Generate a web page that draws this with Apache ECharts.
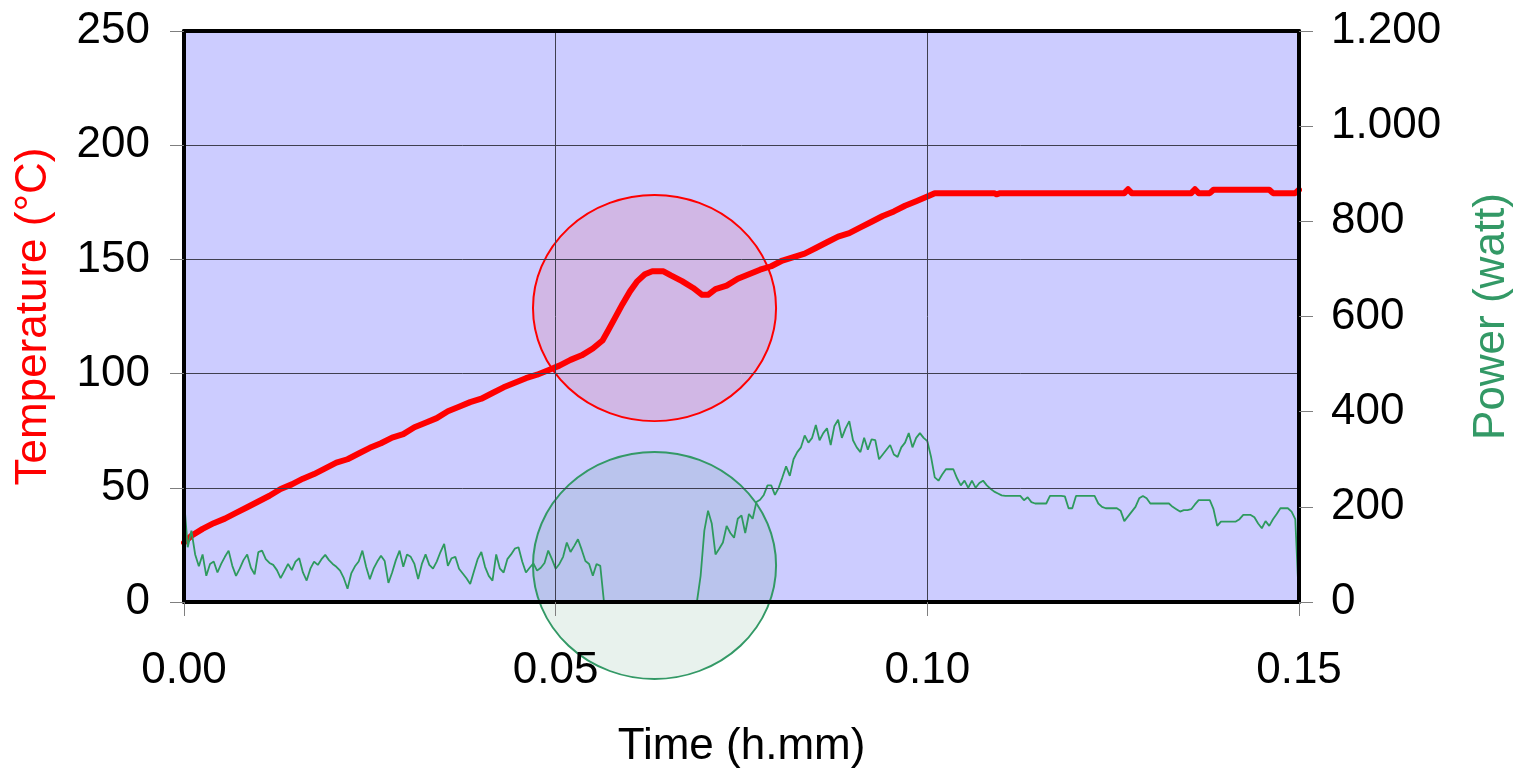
<!DOCTYPE html>
<html>
<head>
<meta charset="utf-8">
<title>Temperature and power vs time</title>
<script src="https://cdn.jsdelivr.net/npm/echarts@6/dist/echarts.min.js"></script>
<style>
  html, body { margin: 0; padding: 0; background: #fff; }
  #chart { width: 1513px; height: 768px; }
</style>
</head>
<body>
<div id="chart"></div>
<script>
// Temperature log (h.mm, °C)
const tempTime = [
  0.0000, 0.0010, 0.0025, 0.0040, 0.0055, 0.0070, 0.0085, 0.0100, 0.0115, 0.0130,
  0.0145, 0.0160, 0.0175, 0.0190, 0.0205, 0.0220, 0.0235, 0.0250, 0.0265, 0.0280,
  0.0295, 0.0310, 0.0325, 0.0340, 0.0355, 0.0370, 0.0385, 0.0400, 0.0415, 0.0430,
  0.0445, 0.0460, 0.0475, 0.0490, 0.0505, 0.0520, 0.0535, 0.0550, 0.0563, 0.0570,
  0.0580, 0.0590, 0.0600, 0.0610, 0.0620, 0.0630, 0.0645, 0.0655, 0.0670, 0.0685,
  0.0697, 0.0705, 0.0715, 0.0730, 0.0745, 0.0760, 0.0775, 0.0790, 0.0805, 0.0820,
  0.0835, 0.0850, 0.0865, 0.0880, 0.0895, 0.0910, 0.0925, 0.0940, 0.0955, 0.0970,
  0.0985, 0.1000, 0.1010, 0.1090, 0.1093, 0.1098, 0.1265, 0.1270, 0.1275, 0.1355,
  0.1360, 0.1365, 0.1380, 0.1385, 0.1460, 0.1465, 0.1495, 0.1500
];
const temperature = [
  26.0, 29.0, 32.0, 34.5, 36.5, 39.0, 41.5, 44.0, 46.5, 49.5,
  51.5, 54.0, 56.0, 58.5, 61.0, 62.5, 65.0, 67.5, 69.5, 72.0,
  73.5, 76.5, 78.5, 80.5, 83.5, 85.5, 87.5, 89.0, 91.5, 94.0,
  96.0, 98.0, 99.5, 101.5, 103.5, 106.0, 108.0, 111.0, 114.5, 118.5,
  124.5, 130.5, 136.0, 140.5, 143.5, 144.8, 144.8, 143.0, 140.5, 137.5,
  134.5, 134.5, 137.0, 138.5, 141.5, 143.5, 145.5, 147.0, 149.5, 151.0,
  152.5, 155.0, 157.5, 160.0, 161.5, 164.0, 166.5, 169.0, 171.0, 173.5,
  175.5, 177.5, 179.0, 179.0, 178.5, 179.0, 179.0, 180.7, 179.0, 179.0,
  180.7, 179.0, 179.0, 180.5, 180.5, 179.0, 179.0, 180.5
];

// Power log (watt), one record every POWER_STEP hours starting at 0
const POWER_STEP = 0.0005;
const power = [
  215, 115, 150, 100, 75, 100, 55, 80, 85, 62,
  80, 95, 108, 76, 55, 70, 88, 100, 72, 58,
  105, 108, 90, 82, 78, 67, 50, 65, 80, 67,
  85, 92, 62, 45, 70, 85, 78, 90, 99, 88,
  80, 74, 66, 50, 28, 60, 75, 85, 108, 74,
  48, 70, 85, 97, 86, 40, 62, 88, 108, 74,
  100, 95, 80, 48, 80, 100, 78, 70, 85, 105,
  122, 76, 92, 95, 70, 60, 50, 38, 64, 90,
  105, 74, 55, 45, 100, 70, 62, 90, 100, 112,
  115, 85, 62, 72, 81, 66, 72, 82, 108, 90,
  70, 80, 95, 125, 105, 118, 132, 110, 86, 80,
  55, 80, 76, 0, 0, 0, 0, 0, 0, 0,
  0, 0, 0, 0, 0, 0, 0, 0, 0, 0,
  0, 0, 0, 0, 0, 0, 0, 0, 0, 55,
  150, 192, 165, 100, 112, 125, 160, 145, 135, 175,
  182, 145, 185, 175, 210, 215, 225, 245, 245, 225,
  240, 262, 285, 265, 300, 315, 325, 350, 335, 345,
  372, 340, 355, 365, 330, 370, 383, 345, 365, 380,
  340, 325, 315, 345, 320, 342, 340, 300, 310, 320,
  330, 310, 305, 325, 335, 355, 325, 345, 355, 345,
  338, 305, 262, 255, 268, 279, 279, 279, 260, 245,
  255, 240, 255, 240, 250, 255, 245, 238, 232, 228,
  224, 223, 223, 223, 223, 223, 214, 220, 210, 207,
  207, 207, 207, 223, 223, 223, 223, 222, 197, 197,
  223, 223, 223, 223, 223, 223, 207, 200, 197, 197,
  197, 197, 192, 170, 180, 190, 200, 218, 223, 218,
  207, 207, 207, 207, 207, 207, 200, 195, 190, 193,
  193, 195, 205, 214, 214, 214, 214, 195, 160, 169,
  169, 169, 169, 169, 174, 183, 183, 183, 178, 165,
  155, 170, 160, 174, 185, 197, 197, 197, 190, 174,
  0
];

// Axis ticks
const timeTicks = [0, 0.05, 0.10, 0.15];
const tempTicks = [0, 50, 100, 150, 200, 250];
const powerTicks = [0, 200, 400, 600, 800, 1000, 1200];

// Highlighted regions: [centre time, centre °C, half-width (h), half-height (°C)]
const tempHighlight = [0.0633, 128.7, 0.01635, 49.5];
const powerHighlight = [0.0633, 16.0, 0.01635, 49.7];

const FONT = "'Liberation Sans', Arial, sans-serif";
const FRAME = { show: true, onZero: false, lineStyle: { color: '#000000', width: 4 } };
const TICK = { show: true, inside: false, length: 14, lineStyle: { color: '#7f7f7f', width: 1 } };
const GRID_LINE = { show: true, lineStyle: { color: '#3f3f4f', width: 1 } };

function thousandsDot(v) {
  return String(v).replace(/\B(?=(\d{3})+(?!\d))/g, '.');
}

function ellipseSeries(item, fill, stroke) {
  return {
    type: 'custom',
    xAxisIndex: 0,
    yAxisIndex: 0,
    z: 1,
    clip: false,
    silent: true,
    data: [item],
    renderItem: function (params, api) {
      const c = api.coord([api.value(0), api.value(1)]);
      const s = api.size([api.value(2), api.value(3)]);
      return {
        type: 'circle',
        x: c[0],
        y: c[1],
        scaleY: s[1] / s[0],
        shape: { cx: 0, cy: 0, r: s[0] },
        style: { fill: fill, stroke: stroke, lineWidth: 2 }
      };
    }
  };
}

const chart = echarts.init(document.getElementById('chart'), null, { renderer: 'canvas' });

const timeRange = {
  type: 'value',
  min: timeTicks[0],
  max: timeTicks[timeTicks.length - 1],
  interval: timeTicks[1] - timeTicks[0]
};

const option = {
  animation: false,
  textStyle: { fontFamily: FONT },
  grid: {
    left: 184, right: 214, top: 31, bottom: 166,
    containLabel: false,
    outerBoundsMode: 'none',
    show: true,
    backgroundColor: '#CCCCFF',
    borderWidth: 0
  },
  xAxis: [
    Object.assign({}, timeRange, {
      position: 'bottom',
      name: 'Time (h.mm)',
      nameLocation: 'middle',
      nameGap: 123,
      nameTextStyle: { fontSize: 44, color: '#000', fontFamily: FONT },
      axisLine: FRAME,
      axisTick: TICK,
      axisLabel: { fontSize: 44, color: '#000', margin: 47, fontFamily: FONT,
        formatter: v => v.toFixed(2) },
      splitLine: GRID_LINE,
      z: 5
    }),
    Object.assign({}, timeRange, {
      position: 'top',
      axisLine: FRAME,
      axisTick: { show: false },
      axisLabel: { show: false },
      splitLine: { show: false },
      z: 5
    })
  ],
  yAxis: [
    {
      type: 'value',
      position: 'left',
      min: tempTicks[0],
      max: tempTicks[tempTicks.length - 1],
      interval: tempTicks[1] - tempTicks[0],
      name: 'Temperature (°C)',
      nameLocation: 'middle',
      nameGap: 128,
      nameTextStyle: { fontSize: 44, color: '#FF0000', fontFamily: FONT },
      axisLine: FRAME,
      axisTick: TICK,
      axisLabel: { fontSize: 44, color: '#000', margin: 34, fontFamily: FONT },
      splitLine: GRID_LINE,
      z: 5
    },
    {
      type: 'value',
      position: 'right',
      min: powerTicks[0],
      max: powerTicks[powerTicks.length - 1],
      interval: powerTicks[1] - powerTicks[0],
      name: 'Power (watt)',
      nameLocation: 'middle',
      nameGap: 171,
      nameTextStyle: { fontSize: 44, color: '#339966', fontFamily: FONT },
      axisLine: FRAME,
      axisTick: TICK,
      axisLabel: { fontSize: 44, color: '#000', margin: 32, fontFamily: FONT,
        formatter: v => thousandsDot(v) },
      splitLine: { show: false },
      z: 5
    }
  ],
  series: [
    ellipseSeries(tempHighlight, 'rgba(255,0,0,0.10)', '#FF0000'),
    ellipseSeries(powerHighlight, 'rgba(46,139,87,0.11)', '#339966'),
    {
      name: 'Temperature',
      type: 'line',
      xAxisIndex: 0,
      yAxisIndex: 0,
      z: 3,
      showSymbol: false,
      symbol: 'none',
      lineStyle: { color: '#FF0000', width: 6, cap: 'round', join: 'round' },
      data: tempTime.map((t, i) => [t, temperature[i]])
    },
    {
      name: 'Power',
      type: 'line',
      xAxisIndex: 0,
      yAxisIndex: 1,
      z: 4,
      showSymbol: false,
      symbol: 'none',
      lineStyle: { color: '#2E9A5E', width: 1.8 },
      data: power.map((v, i) => [i * POWER_STEP, v])
    }
  ]
};

chart.setOption(option);
</script>
</body>
</html>
